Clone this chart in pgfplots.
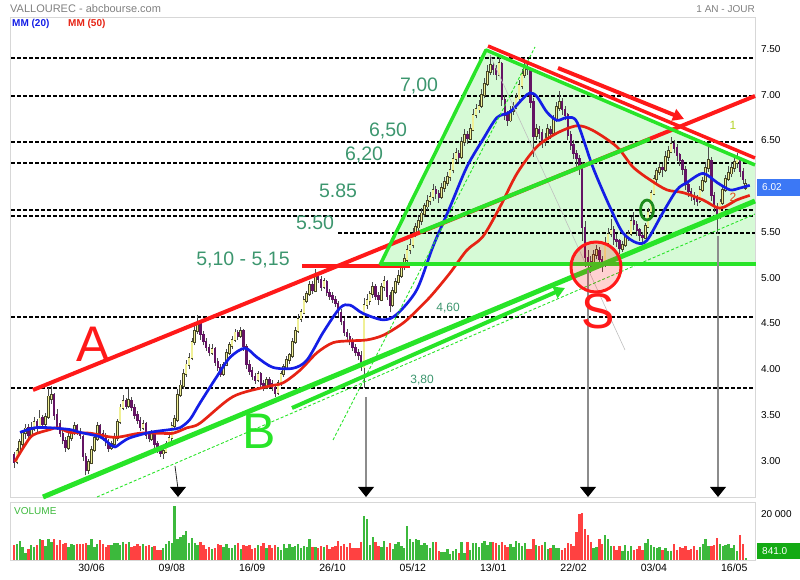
\documentclass[border=0pt]{standalone}
\usepackage{pgfplots}
\pgfplotsset{compat=1.18}
\usepackage{pgfplotstable}
\usepackage{fontspec}
\setmainfont{Liberation Sans}
\usetikzlibrary{arrows.meta}
\definecolor{upfill}{RGB}{240,240,150}
\definecolor{upedge}{RGB}{70,70,40}
\definecolor{downfill}{RGB}{100,20,100}
\definecolor{mablue}{RGB}{20,30,230}
\definecolor{mared}{RGB}{230,35,20}
\definecolor{volg}{RGB}{60,185,60}
\definecolor{volr}{RGB}{255,65,65}
\definecolor{trifill}{RGB}{214,250,214}
\definecolor{gann}{RGB}{40,228,40}
\definecolor{rann}{RGB}{255,25,25}
\definecolor{txtg}{RGB}{60,150,110}
\definecolor{darkg}{RGB}{30,140,30}
\definecolor{boxblue}{RGB}{60,120,245}
\definecolor{boxgreen}{RGB}{20,170,20}
\definecolor{framegray}{RGB}{215,215,215}
\definecolor{oneclr}{RGB}{180,210,40}
\definecolor{twoclr}{RGB}{225,70,20}
\pgfplotsset{candle/.style={only marks, mark=*, mark size=0.01pt,
  mark options={draw opacity=0, fill opacity=0}, forget plot}}

\pgfplotstableread{
o h l c v
3.06 3.10 2.92 2.98 6.6
2.99 3.14 2.96 3.10 7.0
3.08 3.24 3.05 3.20 8.2
3.18 3.34 3.15 3.30 5.8
3.30 3.40 3.24 3.35 3.0
3.36 3.40 3.22 3.28 4.6
3.27 3.42 3.25 3.36 6.3
3.35 3.48 3.32 3.42 5.8
3.43 3.46 3.30 3.38 6.3
3.38 3.55 3.36 3.46 9.0
3.47 3.50 3.35 3.40 8.8
3.40 3.52 3.36 3.48 6.2
3.48 3.80 3.46 3.70 9.0
3.68 3.82 3.62 3.72 7.8
3.72 3.74 3.45 3.50 9.3
3.50 3.56 3.34 3.38 6.5
3.40 3.45 3.26 3.30 8.8
3.30 3.34 3.18 3.22 6.8
3.22 3.26 3.10 3.15 7.4
3.14 3.30 3.12 3.26 5.5
3.25 3.34 3.22 3.30 6.9
3.30 3.42 3.28 3.38 6.5
3.38 3.40 3.28 3.32 6.8
3.32 3.36 3.24 3.28 7.0
3.26 3.28 3.00 3.05 6.8
3.04 3.08 2.84 2.90 7.6
2.90 3.02 2.86 2.98 6.5
2.98 3.16 2.96 3.12 9.0
3.12 3.28 3.10 3.25 5.5
3.24 3.42 3.22 3.38 7.0
3.38 3.40 3.26 3.30 8.6
3.30 3.34 3.22 3.26 6.9
3.26 3.30 3.16 3.20 5.8
3.20 3.24 3.10 3.14 6.6
3.14 3.22 3.12 3.18 6.7
3.18 3.30 3.15 3.25 7.6
3.25 3.46 3.22 3.42 7.5
3.42 3.62 3.40 3.58 6.4
3.58 3.72 3.55 3.65 8.0
3.65 3.68 3.56 3.60 6.9
3.60 3.78 3.58 3.66 7.8
3.66 3.70 3.54 3.58 5.5
3.58 3.62 3.46 3.50 6.2
3.50 3.54 3.40 3.44 6.8
3.44 3.48 3.32 3.36 6.0
3.36 3.44 3.34 3.40 7.0
3.40 3.42 3.24 3.28 6.2
3.28 3.32 3.20 3.24 6.7
3.24 3.34 3.22 3.30 5.6
3.30 3.32 3.14 3.18 5.9
3.18 3.22 3.08 3.12 4.5
3.12 3.16 3.04 3.08 4.3
3.08 3.14 3.02 3.10 5.0
3.10 3.22 3.08 3.18 6.8
3.18 3.30 3.16 3.25 8.2
3.25 3.42 3.22 3.38 7.4
3.38 3.50 3.35 3.45 23.5
3.45 3.78 3.42 3.72 9.3
3.72 3.88 3.70 3.82 9.8
3.82 4.00 3.78 3.95 11.0
3.95 4.10 3.92 4.05 12.5
4.05 4.18 4.00 4.12 7.2
4.12 4.34 4.10 4.30 9.6
4.30 4.48 4.26 4.42 7.6
4.42 4.59 4.38 4.50 6.3
4.52 4.54 4.32 4.38 8.0
4.38 4.42 4.26 4.30 6.5
4.30 4.34 4.20 4.24 4.6
4.24 4.28 4.14 4.18 5.5
4.18 4.28 4.16 4.22 4.9
4.22 4.24 4.04 4.08 5.2
4.08 4.12 3.98 4.02 6.9
4.02 4.06 3.92 3.95 6.5
3.95 4.08 3.93 4.05 5.5
4.05 4.22 4.03 4.18 6.9
4.18 4.30 4.16 4.26 5.0
4.26 4.36 4.22 4.32 5.0
4.32 4.44 4.30 4.40 6.4
4.40 4.43 4.32 4.36 7.5
4.36 4.46 4.34 4.42 4.8
4.42 4.44 4.20 4.25 6.5
4.25 4.28 4.00 4.05 6.0
4.05 4.10 3.94 3.98 6.3
3.98 4.02 3.88 3.92 4.6
3.92 3.96 3.84 3.88 5.4
3.88 3.98 3.86 3.95 6.5
3.95 3.97 3.80 3.84 6.0
3.84 3.88 3.76 3.80 7.5
3.80 3.92 3.78 3.88 5.2
3.88 3.92 3.80 3.84 6.6
3.84 3.88 3.76 3.80 5.0
3.80 3.82 3.70 3.74 6.3
3.74 3.88 3.72 3.85 5.8
3.85 3.98 3.82 3.95 4.5
3.95 4.06 3.92 4.02 7.0
4.02 4.14 4.00 4.10 5.0
4.10 4.18 4.06 4.15 6.8
4.15 4.34 4.12 4.30 5.5
4.30 4.46 4.28 4.42 6.1
4.42 4.60 4.40 4.55 7.1
4.55 4.66 4.52 4.62 5.2
4.62 4.80 4.60 4.75 6.1
4.75 4.86 4.72 4.82 5.8
4.82 4.96 4.80 4.92 9.0
4.92 4.96 4.82 4.86 5.5
4.86 5.10 4.84 5.02 5.8
5.02 5.06 4.94 4.98 5.2
4.98 5.02 4.86 4.90 6.0
4.90 5.00 4.88 4.96 5.8
4.96 4.98 4.80 4.84 6.3
4.84 4.88 4.76 4.80 4.8
4.80 4.84 4.72 4.76 5.6
4.76 4.80 4.68 4.72 6.2
4.72 4.74 4.58 4.62 8.2
4.62 4.66 4.48 4.52 6.0
4.52 4.56 4.36 4.40 6.8
4.40 4.44 4.32 4.36 5.8
4.36 4.40 4.26 4.30 7.2
4.30 4.34 4.20 4.24 5.0
4.24 4.28 4.14 4.18 5.0
4.18 4.22 4.10 4.15 5.3
4.15 4.20 3.98 4.05 8.0
4.02 4.78 3.80 4.70 19.0
4.70 4.82 4.66 4.75 17.6
4.75 4.86 4.70 4.82 6.4
4.82 4.95 4.78 4.90 9.8
4.90 4.93 4.76 4.80 7.9
4.80 4.84 4.70 4.76 6.1
4.76 4.94 4.74 4.90 5.6
4.90 5.02 4.86 4.96 8.4
4.96 4.98 4.76 4.80 5.7
4.80 4.84 4.62 4.70 7.5
4.70 4.90 4.68 4.85 4.9
4.85 5.00 4.82 4.95 7.0
4.95 5.08 4.92 5.02 8.0
5.02 5.16 5.00 5.12 6.1
5.12 5.26 5.08 5.20 5.3
5.20 5.36 5.16 5.30 14.9
5.30 5.42 5.26 5.36 9.1
5.36 5.54 5.32 5.48 8.0
5.48 5.60 5.44 5.55 9.1
5.55 5.68 5.50 5.62 8.5
5.62 5.76 5.58 5.70 6.5
5.70 5.82 5.66 5.78 7.4
5.78 5.90 5.74 5.84 6.6
5.84 5.94 5.80 5.88 5.3
5.88 6.02 5.84 5.96 7.8
5.96 6.00 5.86 5.92 7.7
5.92 5.96 5.82 5.88 3.7
5.88 6.04 5.86 5.98 3.6
5.98 6.10 5.94 6.04 3.5
6.04 6.16 6.00 6.10 4.7
6.10 6.24 6.06 6.18 2.8
6.18 6.36 6.14 6.30 3.9
6.30 6.42 6.26 6.36 4.6
6.36 6.40 6.26 6.32 3.1
6.32 6.54 6.30 6.48 8.0
6.48 6.62 6.44 6.56 3.0
6.56 6.60 6.46 6.52 7.9
6.52 6.68 6.50 6.62 4.4
6.62 6.84 6.60 6.78 7.6
6.78 6.90 6.74 6.84 7.2
6.84 6.94 6.80 6.88 5.8
6.88 7.06 6.86 7.00 7.6
7.00 7.18 6.96 7.12 8.1
7.12 7.32 7.10 7.25 6.5
7.25 7.43 7.22 7.32 8.0
7.32 7.36 7.22 7.28 8.0
7.28 7.32 7.16 7.22 7.3
7.22 7.40 7.20 7.34 6.7
7.34 7.36 6.88 6.95 7.8
6.95 7.00 6.72 6.78 6.4
6.78 6.82 6.66 6.72 5.6
6.72 6.88 6.70 6.82 6.8
6.82 6.92 6.78 6.86 5.5
6.86 7.02 6.84 6.96 8.3
6.96 7.16 6.94 7.10 7.4
7.10 7.28 7.06 7.22 6.0
7.22 7.40 7.18 7.30 7.5
7.30 7.34 7.22 7.28 4.6
7.28 7.30 6.86 6.92 4.7
6.92 6.96 6.32 6.55 9.1
6.55 6.68 6.50 6.62 6.4
6.62 6.66 6.52 6.58 6.0
6.58 6.62 6.42 6.48 6.6
6.48 6.58 6.44 6.52 8.0
6.52 6.68 6.50 6.62 4.7
6.62 6.66 6.52 6.58 5.3
6.58 6.78 6.56 6.72 6.5
6.72 6.92 6.70 6.86 5.1
6.86 7.04 6.82 6.92 5.0
6.92 6.96 6.78 6.84 4.4
6.84 6.88 6.72 6.78 5.4
6.78 6.80 6.50 6.56 7.6
6.56 6.60 6.40 6.45 7.0
6.45 6.50 6.30 6.36 6.0
6.36 6.40 6.20 6.30 12.0
6.30 6.34 6.12 6.22 20.2
6.22 6.26 5.40 5.55 20.6
5.55 5.62 5.12 5.22 13.5
5.22 5.30 5.10 5.18 11.0
5.18 5.24 5.05 5.12 8.0
5.12 5.30 5.10 5.25 5.2
5.25 5.36 5.20 5.30 5.6
5.30 5.34 5.14 5.20 9.0
5.20 5.24 5.06 5.14 7.0
5.14 5.44 5.12 5.38 11.0
5.38 5.54 5.34 5.48 9.2
5.48 5.64 5.44 5.52 6.1
5.52 5.56 5.36 5.42 6.0
5.42 5.48 5.34 5.40 4.2
5.40 5.42 5.26 5.32 6.2
5.32 5.40 5.28 5.36 4.0
5.36 5.48 5.34 5.44 6.5
5.44 5.52 5.40 5.48 3.9
5.48 5.66 5.46 5.62 6.2
5.62 5.72 5.52 5.58 4.3
5.58 5.62 5.46 5.52 4.7
5.52 5.54 5.40 5.46 6.0
5.46 5.50 5.38 5.44 4.3
5.44 5.60 5.42 5.56 7.4
5.56 5.76 5.54 5.72 9.1
5.72 5.96 5.70 5.92 6.3
5.92 6.12 5.90 6.08 5.7
6.08 6.20 6.04 6.16 5.2
6.16 6.26 6.12 6.20 5.8
6.20 6.24 6.10 6.18 4.3
6.18 6.38 6.16 6.32 5.3
6.32 6.44 6.28 6.38 4.1
6.38 6.54 6.36 6.46 4.0
6.46 6.50 6.36 6.42 7.1
6.42 6.46 6.28 6.34 4.3
6.34 6.36 6.22 6.28 5.5
6.28 6.30 6.12 6.18 5.2
6.18 6.22 5.96 6.02 6.0
6.02 6.06 5.88 5.94 4.4
5.94 5.98 5.84 5.90 4.9
5.90 5.94 5.80 5.86 6.2
5.86 5.90 5.78 5.84 4.4
5.84 6.00 5.82 5.96 5.6
5.96 6.10 5.94 6.06 6.8
6.06 6.26 6.04 6.20 9.2
6.20 6.44 6.16 6.28 5.9
6.28 6.32 5.84 5.90 6.1
5.90 5.94 5.72 5.78 6.3
5.78 5.82 5.48 5.68 9.5
5.68 5.86 5.64 5.82 6.8
5.82 6.00 5.80 5.96 6.0
5.96 6.12 5.94 6.08 6.6
6.08 6.22 6.06 6.14 7.1
6.14 6.26 6.10 6.20 5.3
6.20 6.34 6.16 6.26 6.3
6.26 6.36 6.20 6.30 4.1
6.30 6.32 6.10 6.16 10.8
6.16 6.20 6.02 6.08 7.1
5.98 6.08 5.96 6.02 0.841
}\data

\begin{document}
\begin{tikzpicture}
\useasboundingbox (0pt,0pt) rectangle (800pt,580pt);
% background annotations (pixel coordinates, y downwards)
\begin{scope}[x=1pt, y=1pt, shift={(0pt,580pt)}, yscale=-1]
  \fill[trifill] (486,50) -- (380,265) -- (755,265) -- (755,163) -- cycle;
  \foreach \yy in {58,96,142,163,210,216,317,388}
    \draw[black, line width=1.4pt, dash pattern=on 3.5pt off 2.5pt] (11,\yy) -- (755,\yy);
  \draw[black, line width=1.4pt, dash pattern=on 3.5pt off 2.5pt] (338,233) -- (755,233);
\end{scope}

% ---------------- price panel ----------------
\begin{axis}[
  at={(10.7pt,83pt)}, anchor=south west, scale only axis,
  width=744.8pt, height=480pt,
  xmin=-1.15, xmax=258.4, ymin=2.604, ymax=7.85,
  axis line style={draw=framegray},
  xtick=\empty,
  ytick={3,3.5,4,4.5,5,5.5,6.5,7,7.5},
  yticklabels={3.00,3.50,4.00,4.50,5.00,5.50,6.50,7.00,7.50},
  yticklabel pos=right, major tick length=0pt,
  yticklabel style={font=\fontsize{10}{12}\selectfont, anchor=west, xshift=2pt},
  clip=true,
]
% wicks
\addplot[candle,
  error bars/.cd, y dir=plus, y explicit, error mark=none,
  error bar style={line width=0.7pt, color=black!70}]
  table[x expr=\coordindex, y=l, y error expr=\thisrow{h}-\thisrow{l}] {\data};
% up bodies: edge then fill
\addplot[candle,
  error bars/.cd, y dir=both, y explicit, error mark=none,
  error bar style={line width=2.6pt, color=upedge}]
  table[x expr=\coordindex,
        y expr={\thisrow{c}>=\thisrow{o} ? (\thisrow{o}+\thisrow{c})/2 : -50},
        y error expr={abs(\thisrow{c}-\thisrow{o})/2+0.012}] {\data};
\addplot[candle,
  error bars/.cd, y dir=both, y explicit, error mark=none,
  error bar style={line width=1.4pt, color=upfill}]
  table[x expr=\coordindex,
        y expr={\thisrow{c}>=\thisrow{o} ? (\thisrow{o}+\thisrow{c})/2 : -50},
        y error expr={abs(\thisrow{c}-\thisrow{o})/2+0.002}] {\data};
% down bodies
\addplot[candle,
  error bars/.cd, y dir=both, y explicit, error mark=none,
  error bar style={line width=2.4pt, color=downfill}]
  table[x expr=\coordindex,
        y expr={\thisrow{c}<\thisrow{o} ? (\thisrow{o}+\thisrow{c})/2 : -50},
        y error expr={abs(\thisrow{c}-\thisrow{o})/2+0.008}] {\data};
% MM 50
\addplot[mared, line width=2.7pt, smooth] coordinates {
(0.3,2.99) (3.8,3.17) (6.6,3.28) (12.5,3.34) (15.3,3.36) (19.5,3.31) (26.5,3.30)
(33.4,3.26) (36.9,3.26) (43.9,3.30) (50.9,3.30) (55.4,3.30) (60.3,3.36) (64.8,3.41)
(76.3,3.70) (88.2,3.81) (93.7,3.85) (99.7,3.99) (105.6,4.18) (111.2,4.29) (117.1,4.31)
(123,4.32) (128.6,4.37) (134.5,4.48) (138,4.57) (145,4.79) (151.9,5.05) (157.8,5.30)
(163.4,5.45) (169.3,5.77) (175.3,6.14) (182.2,6.43) (189.2,6.58) (196.2,6.66)
(201.7,6.61) (210.1,6.43) (215.7,6.21) (221.6,6.07) (227.5,5.96) (233.1,5.93)
(240.1,5.85) (246,5.76) (251.9,5.85) (256.4,5.90)};
% MM 20
\addplot[mablue, line width=2.7pt, smooth] coordinates {
(2.1,3.31) (7.3,3.36) (12.5,3.36) (19.5,3.34) (23,3.31) (30,3.26) (33.4,3.18)
(35.2,3.15) (37.6,3.20) (40.4,3.25) (47.4,3.31) (54.4,3.34) (57.8,3.36) (61.3,3.45)
(64.8,3.63) (70.7,3.92) (75.3,4.13) (80.5,4.23) (84.7,4.13) (90.2,4.02) (97.2,4.01)
(102.1,4.10) (107.7,4.40) (113.6,4.67) (117.1,4.70) (121.6,4.61) (128.6,4.54)
(133.4,4.60) (140.4,4.87) (146,5.34) (151.9,5.77) (157.8,6.21) (163.4,6.51)
(168.3,6.75) (172.8,6.81) (177.4,6.96) (179.8,7.02) (182.2,6.98) (185.7,6.81)
(189.2,6.72) (192.7,6.75) (196.2,6.70) (201.7,6.21) (207.7,5.77) (212.2,5.49)
(217.1,5.38) (220.6,5.41) (226.1,5.71) (231,5.96) (234.5,6.04) (240.1,6.14)
(245,6.04) (249.5,5.96) (253,5.98) (256.4,6.01)};
\end{axis}

% ---------------- volume panel ----------------
\begin{axis}[
  at={(10.7pt,20pt)}, anchor=south west, scale only axis,
  width=744.8pt, height=58pt,
  xmin=-1.15, xmax=258.4, ymin=0, ymax=25.2,
  axis line style={draw=framegray},
  xtick={27,55,83,111,139,167,195,223,251},
  xticklabels={30/06,09/08,16/09,26/10,05/12,13/01,22/02,03/04,16/05},
  xticklabel style={font=\fontsize{10.5}{12}\selectfont},
  ytick={20}, yticklabels={20 000},
  yticklabel pos=right, major tick length=0pt,
  yticklabel style={font=\fontsize{10}{12}\selectfont, anchor=west, xshift=2pt},
  clip=true,
]
\addplot[ycomb, line width=2.4pt, volg] table[x expr=\coordindex,
   y expr={\thisrow{c}>=\thisrow{o} ? \thisrow{v} : -10}] {\data};
\addplot[ycomb, line width=2.4pt, volr] table[x expr=\coordindex,
   y expr={\thisrow{c}<\thisrow{o} ? \thisrow{v} : -10}] {\data};
\end{axis}

% foreground annotations
\begin{scope}[x=1pt, y=1pt, shift={(0pt,580pt)}, yscale=-1]
  \draw[black!25, line width=0.6pt] (490,55) -- (625,350);
  \draw[gann, line width=0.9pt, dash pattern=on 3pt off 2pt] (97,497) -- (755,214);
  \draw[gann, line width=0.9pt, dash pattern=on 3pt off 2pt] (333,440) -- (535,47);
  % A channel line
  \draw[rann, line width=4pt] (33,390) -- (755,96);
  \draw[gann, line width=4pt] (420,232) -- (650,139);
  % 5,10 - 5,15 red line
  \draw[rann, line width=3.5pt] (302,266) -- (410,266);
  % triangle
  \draw[gann, line width=4.5pt] (380,264) -- (756,264);
  \draw[gann, line width=3.5pt, line join=round] (380,265) -- (486,50) -- (755,165);
  \draw[rann, line width=3.5pt] (488,46) -- (755,158);
  % B channel line
  \draw[gann, line width=5pt] (43,497) -- (755,201);
  \draw[gann, line width=4pt, -{Triangle[length=11pt,width=12pt]}] (292,408) -- (565,288);
  % red arrow
  \draw[rann, line width=4pt, -{Triangle[length=11pt,width=12pt]}] (558,68) -- (684,119);
  % vertical arrows
  \draw[black!85, line width=0.8pt] (175,466) -- (178,489);
  \draw[black!45, line width=2pt] (366,397) -- (366,489);
  \draw[black!45, line width=2pt] (588,270) -- (588,489);
  \draw[black!45, line width=2pt] (718,236) -- (718,489);
  \foreach \xx in {178,366,588,718}
    \fill[black] (\xx-8,487) -- (\xx+8,487) -- (\xx,497) -- cycle;
  % circles
  \filldraw[draw=rann, line width=3pt, fill=red, fill opacity=0.18] (596,267) circle (25);
  \draw[darkg, line width=2.8pt] (647,210) ellipse (6.5 and 10);
  % texts
  \node[txtg, font=\fontsize{19.5}{20}\selectfont] at (419,86) {7,00};
  \node[txtg, font=\fontsize{19.5}{20}\selectfont] at (388,131) {6,50};
  \node[txtg, font=\fontsize{19.5}{20}\selectfont] at (364,155) {6,20};
  \node[txtg, font=\fontsize{19.5}{20}\selectfont] at (338,191) {5.85};
  \node[txtg, font=\fontsize{19.5}{20}\selectfont] at (315,223) {5.50};
  \node[txtg, font=\fontsize{19.5}{20}\selectfont] at (243,260) {5,10 - 5,15};
  \node[txtg, font=\fontsize{12}{13}\selectfont] at (448,308) {4,60};
  \node[txtg, font=\fontsize{12}{13}\selectfont] at (422,380) {3,80};
  \node[rann, font=\fontsize{50}{50}\selectfont] at (93,344) {A};
  \node[gann, font=\fontsize{50}{50}\selectfont] at (259,431) {B};
  \node[rann, font=\fontsize{50}{50}\selectfont] at (598,311) {S};
  \node[oneclr, font=\fontsize{12}{13}\selectfont] at (733,125) {1};
  \node[twoclr, font=\fontsize{12}{13}\selectfont] at (733,197) {2};
  % header
  \node[anchor=west, black!50, font=\fontsize{11}{12}\selectfont, inner sep=0pt] at (10,9) {VALLOUREC - abcbourse.com};
  \node[anchor=east, black!50, font=\fontsize{10}{12}\selectfont, inner sep=0pt] at (755,9) {1 AN - JOUR};
  \node[anchor=west, mablue, font=\fontsize{10}{11}\selectfont\bfseries, inner sep=0pt] at (12,24) {MM (20)};
  \node[anchor=west, mared, font=\fontsize{10}{11}\selectfont\bfseries, inner sep=0pt] at (68,24) {MM (50)};
  \node[anchor=west, volg, font=\fontsize{10}{11}\selectfont, inner sep=0pt] at (14,511) {VOLUME};
  % value boxes
  \fill[boxblue] (757,179) rectangle (800,196);
  \node[anchor=west, white, font=\fontsize{10}{12}\selectfont, inner sep=0pt] at (762,187.5) {6.02};
  \fill[boxgreen] (757,543) rectangle (800,559);
  \node[anchor=west, white, font=\fontsize{10}{12}\selectfont, inner sep=0pt] at (762,551) {841.0};
\end{scope}
\end{tikzpicture}
\end{document}
